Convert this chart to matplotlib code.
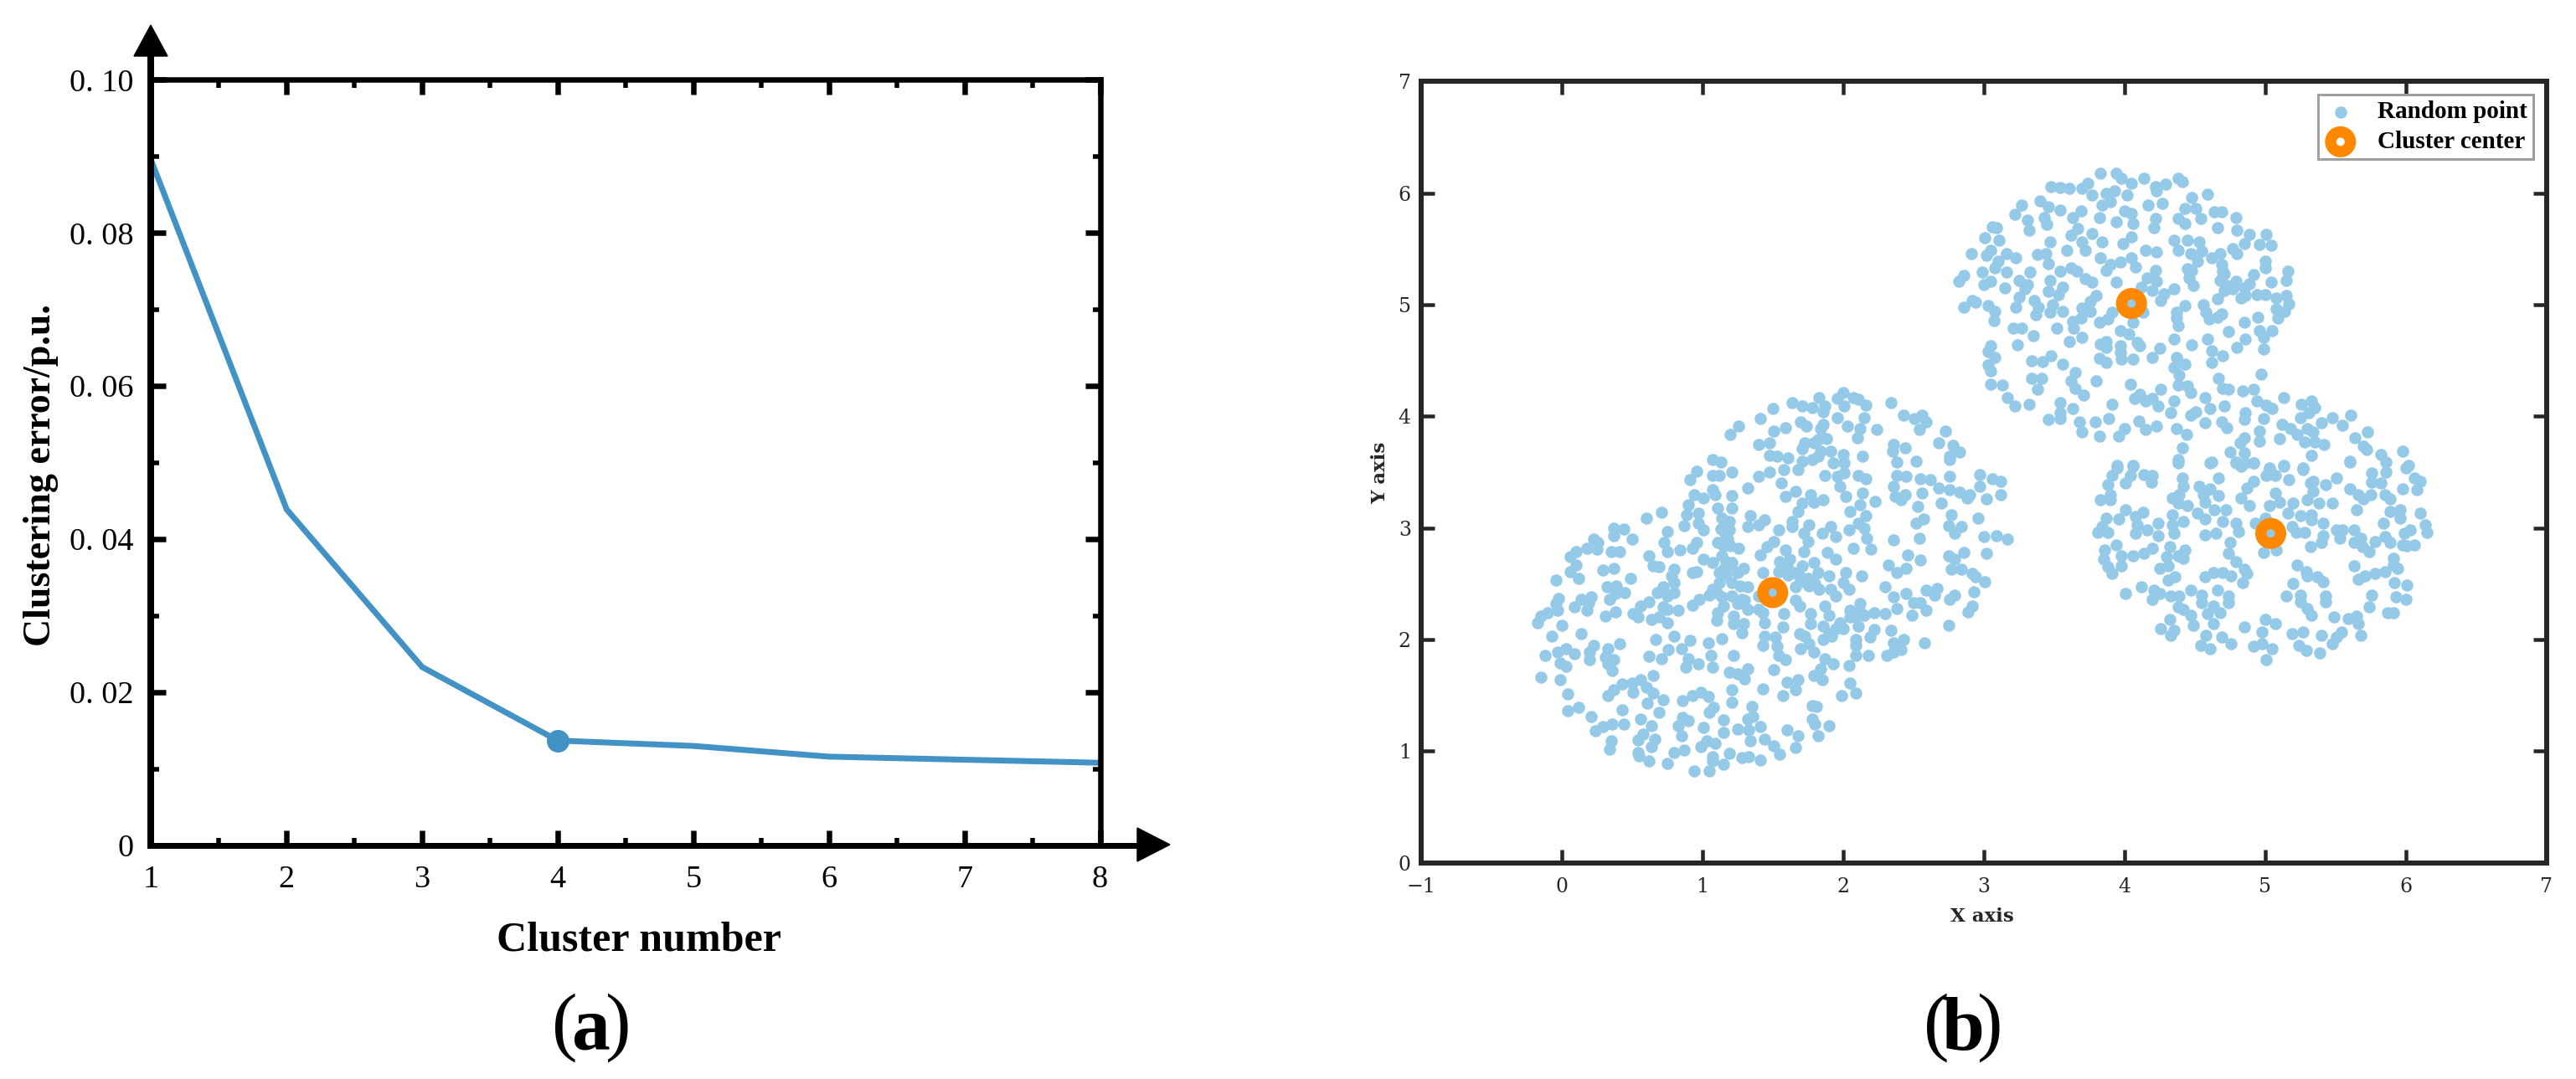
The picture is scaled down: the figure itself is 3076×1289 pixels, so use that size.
import matplotlib
matplotlib.use("Agg")
import matplotlib.pyplot as plt
from matplotlib.patches import Polygon
from matplotlib.lines import Line2D

W, H = 3076, 1289

# Panel (a)
cluster_number = [1, 2, 3, 4, 5, 6, 7, 8]
clustering_error = [0.0895, 0.0439, 0.0233, 0.0137, 0.0130, 0.0116, 0.0112, 0.0108]
elbow_x = [4]
elbow_y = [0.0137]
a_xticks = [1, 2, 3, 4, 5, 6, 7, 8]
a_yticks = [0, 0.02, 0.04, 0.06, 0.08, 0.10]
a_yticklabels = ["0", "0. 02", "0. 04", "0. 06", "0. 08", "0. 10"]

# Panel (b)
centers_x = [4.05, 1.50, 5.04]
centers_y = [5.01, 2.42, 2.95]

points_top = [
(3.83,6.18),(3.94,6.18),(3.98,6.13),(4.05,6.09),(4.14,6.13),(4.38,6.13),(4.41,6.10),(4.22,6.06),(4.29,6.08),(4.23,6.02),
(3.48,6.06),(3.54,6.05),(3.61,6.04),(3.70,6.04),(3.74,6.09),(3.93,6.02),(4.02,5.98),(3.77,5.98),(3.87,6.00),(4.59,5.99),
(4.48,5.96),(3.40,5.93),(3.27,5.89),(3.46,5.88),(3.54,5.85),(3.69,5.84),(3.84,5.89),(3.90,5.92),(4.17,5.89),(4.27,5.91),
(4.00,5.84),(4.05,5.82),(3.22,5.81),(3.31,5.76),(3.43,5.78),(3.45,5.72),(3.63,5.78),(3.82,5.78),(3.94,5.74),(4.06,5.73),
(4.22,5.77),(4.21,5.69),(4.38,5.77),(4.43,5.86),(4.43,5.73),(4.51,5.86),(4.54,5.77),(4.64,5.83),(4.69,5.83),(4.79,5.78),
(4.66,5.69),(4.80,5.67),(3.32,5.67),(3.06,5.70),(3.09,5.69),(3.01,5.60),(3.11,5.58),(3.67,5.68),(3.62,5.62),(3.77,5.64),
(3.47,5.56),(3.70,5.56),(3.72,5.49),(3.84,5.56),(3.99,5.55),(4.05,5.61),(4.35,5.58),(4.38,5.49),(4.45,5.58),(4.53,5.56),
(4.55,5.48),(4.47,5.46),(4.15,5.49),(4.23,5.47),(4.89,5.63),(4.85,5.55),(5.01,5.63),(4.96,5.54),(5.04,5.53),(4.77,5.50),
(4.80,5.46),(3.59,5.49),(3.05,5.49),(3.02,5.44),(2.91,5.46),(3.16,5.46),(3.23,5.42),(3.38,5.45),(3.44,5.46),(3.46,5.37),
(3.83,5.42),(4.05,5.42),(3.97,5.38),(3.90,5.36),(3.87,5.31),(4.08,5.34),(4.68,5.46),(4.62,5.42),(4.69,5.36),(5.00,5.39),
(5.00,5.33),(3.10,5.39),(3.08,5.33),(2.99,5.29),(3.16,5.29),(3.33,5.29),(2.86,5.26),(2.82,5.21),(3.05,5.21),(3.00,5.18),
(3.15,5.15),(3.25,5.22),(3.31,5.18),(3.29,5.14),(3.54,5.30),(3.62,5.33),(3.66,5.30),(3.72,5.23),(3.77,5.20),(3.47,5.22),
(3.46,5.12),(3.56,5.16),(3.53,5.09),(3.94,5.20),(4.22,5.31),(4.16,5.24),(4.23,5.21),(4.12,5.16),(4.20,5.13),(4.28,5.10),
(4.35,5.14),(4.26,5.04),(4.45,5.32),(4.48,5.31),(4.46,5.24),(4.49,5.17),(4.52,5.39),(4.68,5.22),(4.71,5.28),(4.71,5.13),
(4.79,5.21),(4.77,5.14),(4.92,5.27),(4.89,5.19),(5.04,5.20),(5.16,5.30),(5.15,5.22),(4.86,5.08),(4.83,5.06),(4.94,5.09),
(5.00,5.09),(5.08,5.06),(5.15,5.08),(4.66,5.05),(5.17,5.01),(5.08,4.96),(5.14,4.94),(5.09,4.88),(4.95,4.89),(4.85,4.84),
(4.96,4.77),(5.05,4.77),(4.99,4.71),(4.74,4.76),(4.86,4.69),(4.80,4.62),(4.99,4.60),(4.59,4.69),(4.48,4.64),(4.35,4.69),
(4.62,4.59),(4.70,4.54),(4.62,4.48),(4.97,4.38),(4.67,4.34),(4.70,4.25),(4.74,4.24),(4.84,4.23),(4.92,4.24),
(2.92,5.04),(2.94,5.02),(2.86,4.98),(3.03,4.99),(3.08,4.94),(3.07,4.86),(3.23,4.98),(3.25,5.07),(3.36,5.04),(3.39,4.98),
(3.37,4.91),(3.49,5.00),(3.47,4.93),(3.56,4.94),(3.70,4.97),(3.76,5.03),(3.80,5.08),(3.76,4.94),(3.69,4.88),(3.63,4.85),
(3.64,4.79),(3.52,4.79),(3.91,4.93),(3.88,4.87),(3.82,4.84),(4.05,5.01),(4.13,4.93),(4.06,4.84),(3.97,4.77),(4.03,4.74),
(4.43,4.99),(4.37,4.93),(4.37,4.88),(4.38,4.81),(4.56,5.00),(4.58,4.93),(4.60,4.87),(4.66,4.89),(4.69,4.92),(3.21,4.79),
(3.27,4.79),(3.35,4.72),(3.24,4.64),(3.61,4.67),(3.70,4.71),(3.83,4.65),(3.87,4.67),(3.87,4.62),(3.97,4.63),(3.97,4.57),
(4.09,4.66),(4.11,4.63),(4.25,4.61),(4.20,4.53),(3.05,4.63),(3.03,4.58),(3.08,4.53),(3.03,4.46),(3.05,4.41),(3.34,4.50),
(3.42,4.49),(3.48,4.54),(3.56,4.47),(3.82,4.52),(3.87,4.48),(3.98,4.51),(4.06,4.51),(4.37,4.53),(4.35,4.44),(4.43,4.47),
(4.39,4.37),(4.38,4.28),(4.45,4.27),(4.47,4.21),(3.05,4.29),(3.13,4.28),(3.34,4.34),(3.41,4.34),(3.38,4.24),(3.65,4.39),
(3.62,4.32),(3.65,4.25),(3.71,4.19),(3.80,4.32),(4.04,4.29),(3.17,4.17),(3.22,4.09),(3.32,4.11),(3.54,4.12),(3.54,4.03),
(3.54,3.98),(3.46,3.97),(3.63,4.07),(3.68,3.95),(3.70,3.86),(3.79,3.95),(3.82,3.82),(3.89,3.98),(3.91,4.11),(3.96,3.82),
(4.00,3.89),(4.07,4.16),(4.11,4.20),(4.15,4.14),(4.20,4.16),(4.26,4.24),(4.24,4.09),(4.35,4.14),(4.33,4.03),(4.10,3.96),
(4.15,3.88),(4.23,3.91),(4.37,3.89),(4.44,3.84),(4.57,4.17),(4.47,4.01),(4.51,4.04),(4.61,4.07),(4.57,3.94),(4.71,4.09),
(4.69,3.95),(4.73,3.90),(4.86,4.03),(4.85,3.97),(4.99,3.98),(4.94,4.14),(5.01,4.10),(5.05,4.07),(5.13,4.17),
(4.70,5.30),(4.73,5.17),(4.85,5.15),
]

points_right = [
(5.26,4.11),(5.33,4.14),(5.35,4.08),(5.31,4.03),(5.25,3.99),(5.12,3.93),(5.18,3.89),(5.23,3.84),(5.30,3.89),(5.34,3.86),
(5.40,3.94),(5.48,3.99),(5.55,3.92),(5.61,4.01),(5.28,3.77),(5.35,3.77),(5.42,3.75),(4.96,3.87),(4.96,3.78),(5.10,3.80),
(4.85,3.81),(4.82,3.76),(4.85,3.67),(4.75,3.68),(4.41,3.72),(5.33,3.65),(5.64,3.81),(5.70,3.73),(5.73,3.86),(5.72,3.70),
(5.60,3.59),(5.82,3.66),(5.98,3.69),(5.86,3.59),(6.02,3.56),(4.62,3.59),(4.38,3.61),(4.79,3.59),(4.86,3.58),(4.92,3.58),
(5.13,3.56),(5.03,3.54),(5.27,3.54),(3.95,3.56),(4.06,3.56),
(3.95,3.54),(4.06,3.55),(3.91,3.47),(3.88,3.39),(4.01,3.40),(4.04,3.47),(4.14,3.48),(4.20,3.47),(4.19,3.41),(3.90,3.30),
(3.83,3.25),(3.90,3.25),(4.01,3.16),(3.96,3.08),(3.87,3.09),(3.84,3.01),(3.81,2.96),(3.88,2.96),(4.08,3.10),(4.13,3.14),
(4.09,3.03),(4.08,2.95),(4.16,2.98),(4.24,3.04),(4.24,2.93),(4.34,3.12),(4.34,3.03),(4.35,2.95),(4.42,3.06),(4.38,3.58),
(4.41,3.45),(4.42,3.37),(4.34,3.27),(4.39,3.30),(4.38,3.22),(4.45,3.20),(4.52,3.13),(4.57,3.08),(4.53,3.37),(4.56,3.30),
(4.61,3.35),(4.57,3.23),(4.67,3.29),(4.67,3.45),(4.64,3.16),(4.72,3.16),(4.70,3.06),(4.79,3.04),(4.81,2.97),(4.57,2.94),
(4.65,2.95),(4.75,2.87),(4.74,2.77),(4.79,2.70),(4.85,2.63),(4.87,2.59),(4.84,2.51),(4.61,3.58),(4.79,3.58),(4.83,3.55),
(4.92,3.58),(4.87,3.36),(4.92,3.42),(4.83,3.27),(4.89,3.20),(5.03,3.52),(5.01,3.47),(5.07,3.47),(5.13,3.55),(5.17,3.43),
(5.27,3.52),(5.32,3.40),(5.34,3.33),(5.34,3.42),(5.43,3.39),(5.51,3.45),(5.07,3.31),(5.10,3.23),(5.03,3.20),(5.20,3.22),
(5.16,3.13),(5.30,3.25),(5.38,3.22),(5.48,3.22),(5.25,3.11),(5.33,3.12),(5.33,3.07),(5.41,3.04),(5.00,3.09),(4.93,3.04),
(5.19,3.01),(5.22,2.96),(5.28,2.96),(5.04,2.95),(5.32,2.83),(5.41,2.93),(5.40,2.87),(5.51,2.98),(5.55,2.98),(5.53,2.91),
(5.63,2.98),(5.68,2.91),(5.63,2.87),(5.69,2.83),(5.74,2.79),(5.78,2.88),(5.85,2.92),(5.89,2.87),(4.99,2.78),(5.08,2.80),
(5.65,3.16),(5.60,3.35),(5.66,3.30),(5.70,3.26),(5.75,3.30),(5.76,3.41),(5.76,3.49),(5.82,3.40),(5.85,3.30),(5.89,3.26),
(5.89,3.15),(5.84,3.04),(5.96,3.16),(5.96,3.09),(5.98,3.35),(6.00,3.54),(6.06,3.45),(6.10,3.42),(6.08,3.34),(6.10,3.13),
(6.14,3.03),(6.15,2.96),(6.03,2.98),(5.99,2.95),(5.98,2.85),(6.06,2.85),(6.01,2.84),(5.86,3.50),(5.60,3.60),
(5.23,2.67),(5.29,2.61),(5.30,2.57),(5.37,2.56),(5.41,2.52),(5.20,2.50),(5.15,2.39),(5.25,2.40),(5.25,2.34),(5.30,2.28),
(5.33,2.22),(5.43,2.39),(5.43,2.34),(5.63,2.66),(5.66,2.54),(5.71,2.57),(5.78,2.59),(5.85,2.61),(5.91,2.73),(5.91,2.67),
(5.94,2.64),(5.92,2.51),(6.01,2.49),(5.93,2.38),(6.00,2.36),(5.76,2.40),(5.74,2.29),(5.87,2.24),(5.91,2.24),(5.49,2.20),
(5.59,2.19),(5.65,2.21),(5.66,2.14),(5.68,2.04),(5.54,2.07),(5.51,2.02),(5.48,1.96),(5.40,2.04),(5.27,2.07),(5.19,2.05),
(5.24,1.95),(5.29,1.90),(5.39,1.88),(5.07,2.14),(5.00,2.18),(4.98,2.07),(4.85,2.11),(4.92,1.94),(4.98,1.96),(5.05,1.92),
(5.01,1.82),(4.76,1.96),(4.69,2.02),(4.61,1.92),(4.54,1.95),(4.58,2.04),(4.33,2.04),(4.35,2.08),(4.26,2.10),(4.32,2.18),
(4.49,2.13),(4.63,2.14),(4.68,2.24),(4.63,2.30),(4.59,2.23),(4.47,2.22),(4.42,2.27),(4.38,2.29),(4.55,2.33),(4.74,2.33),
(4.74,2.39),(4.66,2.44),(4.55,2.40),(4.47,2.44),(4.39,2.39),(4.33,2.39),(4.20,2.36),(4.25,2.41),(4.21,2.44),(4.12,2.47),
(4.01,2.41),(4.57,2.56),(4.63,2.60),(4.70,2.60),(4.76,2.57),(4.36,2.56),(4.31,2.53),(4.25,2.64),(4.31,2.66),(4.30,2.74),
(4.38,2.75),(4.42,2.73),(4.43,2.80),(4.32,2.83),(4.20,2.82),(4.14,2.77),(4.06,2.75),(3.98,2.75),(3.98,2.66),(3.94,2.85),
(3.86,2.80),(3.85,2.72),(3.88,2.65),(3.91,2.59),
]

points_left = [
(2.73,3.87),(2.78,3.74),(2.83,3.68),(2.76,3.64),(2.76,3.61),
(1.83,4.17),(2.00,4.21),(1.96,4.16),(2.07,4.17),(2.11,4.15),(2.16,4.10),(2.01,4.09),(1.64,4.12),(1.71,4.09),(1.78,4.08),
(1.87,4.09),(1.86,4.04),(1.50,4.07),(1.41,3.98),(1.26,3.91),(1.20,3.84),(1.96,3.99),(2.15,3.99),(1.70,3.95),(1.74,3.91),
(1.86,3.93),(1.84,3.89),(2.03,3.91),(2.12,3.89),(2.24,3.88),(2.34,4.12),(2.43,4.01),(2.51,3.98),(2.56,4.01),(2.59,3.95),
(2.54,3.88),(1.51,3.87),(1.59,3.90),(1.40,3.75),(1.48,3.76),(1.88,3.80),(1.82,3.79),(2.10,3.81),(1.73,3.76),(1.71,3.71),
(1.79,3.76),(1.84,3.69),(1.91,3.69),(2.00,3.66),(2.14,3.64),(2.36,3.75),(2.35,3.69),(2.44,3.72),(2.68,3.76),(2.52,3.60),
(2.38,3.59),(1.07,3.61),(1.13,3.59),(1.48,3.65),(1.53,3.64),(1.61,3.63),(1.82,3.64),(1.78,3.61),(1.71,3.60),(1.93,3.58),
(2.01,3.58),(1.21,3.50),(1.12,3.47),(1.07,3.47),(0.96,3.51),(0.91,3.43),(1.40,3.46),(1.48,3.50),(1.58,3.52),(1.56,3.40),
(1.68,3.52),(1.87,3.47),(1.96,3.46),(2.01,3.49),(1.98,3.37),(2.02,3.28),(2.11,3.47),(2.16,3.44),(1.32,3.36),(1.21,3.29),
(1.07,3.34),(1.01,3.27),(1.09,3.30),(0.94,3.30),(0.90,3.21),(0.89,3.12),(0.97,3.13),(1.11,3.18),(1.21,3.18),(1.14,3.09),
(1.19,3.06),(1.34,3.11),(1.44,3.07),(1.40,3.03),(1.32,3.01),(1.54,2.98),(1.59,3.28),(1.66,3.33),(1.77,3.30),(1.79,3.23),
(1.86,3.25),(1.71,3.22),(1.68,3.15),(1.64,3.06),(1.64,3.01),(1.76,3.03),(1.72,2.95),(1.75,2.88),(1.72,2.79),(1.85,2.95),
(1.91,3.01),(1.95,2.92),(2.05,3.15),(2.12,3.21),(2.14,3.31),(2.23,3.24),(2.16,3.11),(2.11,3.04),(2.04,2.98),(2.15,3.00),
(2.17,2.91),(2.07,2.82),(2.20,2.81),(0.71,3.14),(0.60,3.09),(0.75,2.97),(0.97,3.04),(1.01,2.98),(0.87,3.02),(0.37,3.00),
(0.44,2.99),(0.37,2.93),(0.50,2.90),(0.23,2.90),(0.18,2.82),(0.26,2.87),(0.25,2.81),(0.10,2.79),(0.06,2.74),(0.10,2.67),
(0.06,2.61),(0.12,2.55),(0.35,2.79),(0.41,2.79),(0.29,2.62),(0.37,2.64),(0.62,2.75),(0.65,2.66),(0.69,2.65),(0.73,2.87),
(0.75,2.79),(0.84,2.80),(0.93,2.82),(0.96,2.87),(0.80,2.63),(0.78,2.57),(0.80,2.51),(0.49,2.55),(-0.04,2.53),(0.96,2.61),
(0.93,2.60),(1.01,2.72),(1.07,2.69),(1.11,2.87),(1.17,2.89),(1.26,2.82),(1.14,2.75),(1.21,2.69),(1.29,2.64),(1.17,2.58),
(1.21,2.51),(1.12,2.51),(1.32,2.47),(1.41,2.76),(1.43,2.60),(1.51,2.88),(1.46,2.83),(1.59,2.80),(1.55,2.70),(1.54,2.61),
(1.61,2.58),(1.71,2.66),(1.79,2.69),(1.69,2.57),(1.82,2.60),(1.76,2.48),(1.66,2.47),(1.89,2.78),(1.95,2.72),(1.90,2.57),
(1.83,2.45),(2.02,2.60),(2.13,2.57),(2.00,2.51),(2.04,2.45),(1.91,2.45),(1.95,2.39),(2.30,2.47),(2.32,2.67),(2.38,2.60),
(2.45,2.64),(2.46,2.76),(2.55,2.71),(2.36,2.89),(2.54,2.91),(2.52,3.04),(2.57,3.08),(2.75,3.02),(2.77,3.12),(2.79,2.95),
(2.84,3.01),(2.53,3.19),(2.70,3.22),(2.36,3.37),(2.37,3.28),(2.41,3.25),(2.44,3.30),(2.56,3.31),(2.38,3.47),(2.45,3.46),
(2.55,3.44),(2.62,3.43),(2.76,3.46),(2.68,3.36),(2.76,3.34),(2.83,3.32),(2.88,3.27),(2.75,2.75),(2.79,2.72),(2.77,2.63),
(2.86,2.78),(2.84,2.63),(2.36,2.38),(2.38,2.28),(2.30,2.23),(2.22,2.24),(2.15,2.22),(2.45,2.41),(2.50,2.33),(2.55,2.33),
(2.59,2.44),(2.65,2.40),(2.67,2.46),(2.79,2.40),(2.76,2.36),(2.49,2.22),(2.59,2.26),(2.75,2.13),(2.58,1.97),(2.89,2.25),
(2.34,2.08),(2.43,2.00),(2.36,1.97),(2.41,1.91),(2.36,1.89),(2.31,1.86),(2.12,2.32),(2.05,2.26),(1.98,2.15),(2.09,2.21),
(2.11,2.12),(2.22,2.09),(2.19,2.02),(2.09,2.00),(2.09,1.95),(2.09,1.86),(2.18,1.86),(2.04,1.77),(1.93,1.78),(1.87,1.83),
(1.92,2.03),(1.86,2.00),(1.86,2.12),(1.90,2.22),(1.87,2.30),(1.77,2.23),(1.77,2.14),(1.69,2.05),(1.73,2.03),(1.76,1.96),
(1.70,1.92),(1.79,1.89),(1.66,2.35),(1.69,2.30),(1.58,2.23),(1.57,2.11),(1.43,2.24),(1.44,2.15),(1.44,2.03),(1.43,1.95),
(1.52,2.02),(1.53,1.94),(1.54,1.86),(1.59,1.82),(1.51,1.73),(1.40,2.27),(1.32,2.27),(1.28,2.36),(1.40,2.39),(1.21,2.39),
(1.14,2.38),(1.07,2.45),(0.98,2.36),(0.93,2.31),(1.11,2.24),(1.10,2.17),(1.15,2.30),(1.22,2.21),(1.22,2.14),(1.28,2.06),
(1.29,2.14),(0.83,2.26),(0.75,2.27),(0.72,2.29),(0.64,2.18),(0.75,2.15),(0.69,2.20),(0.80,2.42),(0.72,2.47),(0.68,2.42),
(0.75,2.39),(0.62,2.34),(0.56,2.30),(0.51,2.23),(0.54,2.20),(0.45,2.42),(0.39,2.48),(0.32,2.47),(0.38,2.41),(0.34,2.36),
(0.38,2.25),(0.31,2.21),(0.21,2.38),(0.14,2.36),(0.19,2.33),(0.18,2.26),(0.09,2.29),(-0.02,2.37),(-0.04,2.32),(-0.03,2.26),
(-0.10,2.24),(-0.15,2.21),(-0.17,2.15),(0.00,2.13),(-0.07,2.03),(0.14,2.05),(0.67,2.00),(0.80,2.03),(0.91,1.99),(1.04,1.97),
(1.14,2.01),(0.76,1.91),(0.85,1.92),(0.62,1.85),(0.71,1.83),(0.90,1.83),(0.97,1.78),(0.88,1.75),(1.06,1.86),(1.07,1.75),
(1.22,1.86),(0.41,1.96),(0.33,1.92),(0.23,1.95),(0.20,1.89),(0.20,1.82),(0.09,1.87),(0.03,1.92),(-0.03,1.89),(-0.12,1.86),
(-0.01,1.79),(0.03,1.76),(0.31,1.84),(0.37,1.82),(0.33,1.78),(0.36,1.72),(-0.15,1.66),(-0.01,1.64),(0.65,1.68),(1.19,1.71),
(1.25,1.69),(1.32,1.74),(1.30,1.65),(1.68,1.64),(1.60,1.62),(1.84,1.74),(1.79,1.68),(1.85,1.64),(2.05,1.61),(2.09,1.52),
(1.99,1.50),(0.43,1.60),(0.37,1.55),(0.33,1.50),(0.50,1.61),(0.56,1.64),(0.60,1.57),(0.51,1.53),(0.65,1.52),(0.72,1.46),
(0.61,1.43),(0.69,1.35),(0.04,1.51),(0.12,1.39),(0.04,1.36),(0.21,1.31),(0.43,1.37),(0.56,1.29),(0.93,1.50),(0.99,1.53),
(1.04,1.49),(0.86,1.45),(1.21,1.55),(1.21,1.44),(1.43,1.56),(1.57,1.50),(1.66,1.55),(1.35,1.40),(1.08,1.39),(1.05,1.35),
(1.78,1.41),(1.81,1.40),(1.78,1.29),(1.80,1.24),(1.90,1.23),(1.82,1.14),(1.68,1.14),(1.60,1.19),(1.66,1.03),(0.86,1.30),
(0.83,1.23),(0.90,1.27),(0.85,1.14),(1.01,1.21),(1.15,1.28),(1.15,1.17),(1.25,1.20),(1.32,1.29),(1.36,1.31),(1.41,1.22),
(1.33,1.19),(1.34,1.09),(1.44,1.11),(1.51,1.05),(1.55,0.97),(0.24,1.18),(0.29,1.22),(0.36,1.24),(0.44,1.24),(0.64,1.23),
(0.58,1.15),(0.54,1.10),(0.66,1.11),(0.64,1.04),(0.35,1.09),(0.34,1.02),(0.54,0.99),(0.55,0.96),(0.62,0.91),(0.75,0.89),
(0.80,0.99),(0.87,1.01),(0.99,1.04),(1.03,1.09),(1.09,1.07),(1.07,0.95),(1.07,0.91),(1.15,0.88),(1.19,0.98),(1.28,0.94),
(1.33,0.95),(1.41,0.92),(0.94,0.82),(1.05,0.82),(1.50,2.42),
(2.97,3.48),(2.97,3.37),(3.06,3.44),(3.12,3.42),(3.12,3.30),(3.02,3.26),(2.90,3.30),(2.96,3.09),(3.00,2.92),(3.09,2.93),
(3.17,2.90),(3.02,2.77),(2.92,2.59),(2.94,2.56),(3.01,2.52),(2.93,2.43),(2.92,2.30),
(1.16,2.95),(1.19,2.98),(1.13,2.99),(1.18,2.90),(1.15,2.84),(1.20,2.84),(1.17,2.70),(1.20,2.65),(1.15,2.63),(1.12,2.60),
(1.25,2.60),(1.27,2.48),(1.05,2.40),(1.10,2.42),(1.25,2.32),(1.30,2.35),(1.70,2.55),(1.75,2.55),(1.80,2.50),(1.70,2.52),
(1.65,2.60),(1.60,2.66),(1.62,2.72),(1.95,2.10),(2.00,2.10),(1.90,2.05),(2.05,2.20),(2.12,2.25),
]

PT = 0.72  # points per pixel at dpi 100
SERIF = ["Liberation Serif", "DejaVu Serif"]


def fx(px):
    return px / W


def fy(px):
    return 1 - px / H


def axes_box(left, top, right, bottom):
    return [fx(left), fy(bottom), (right - left) / W, (bottom - top) / H]


fig = plt.figure(figsize=(W / 100, H / 100), dpi=100, facecolor="white")

# ---------- panel (a) ----------
axa = fig.add_axes(axes_box(180.4, 95.4, 1313.6, 1010))
axa.plot(cluster_number, clustering_error, color="#4292C6", lw=7 * PT, solid_joinstyle="round")
axa.plot(elbow_x, elbow_y, "o", color="#4292C6", ms=27 * PT, mew=0, clip_on=False)
axa.set_xlim(1, 8)
axa.set_ylim(0, 0.10)
axa.set_xticks(a_xticks)
axa.set_xticks([1.5, 2.5, 3.5, 4.5, 5.5, 6.5, 7.5], minor=True)
axa.set_yticks(a_yticks)
axa.set_yticklabels(a_yticklabels)
axa.set_yticks([0.01, 0.03, 0.05, 0.07, 0.09], minor=True)
for s in axa.spines.values():
    s.set_linewidth(6.5 * PT)
    s.set_color("black")
axa.tick_params(which="major", direction="in", top=True, right=True, length=18 * PT, width=6.5 * PT, color="black")
axa.tick_params(which="minor", direction="in", top=True, right=True, length=9.5 * PT, width=5.5 * PT, color="black")
axa.tick_params(axis="x", which="major", pad=24 * PT, labelsize=27.5, labelfontfamily="Liberation Serif")
axa.tick_params(axis="y", which="major", pad=21 * PT, labelsize=27.5, labelfontfamily="Liberation Serif")
fig.text(fx(763), fy(1123), "Cluster number", family=SERIF, weight="bold", fontsize=36, ha="center", va="center")
fig.text(fx(49), fy(568), "Clustering error/p.u.", family=SERIF, weight="bold", fontsize=33, rotation=90, ha="center", va="center")

# axis arrows of panel (a)
fig.add_artist(Line2D([fx(180), fx(180)], [fy(1010), fy(60)], color="black", lw=8 * PT, transform=fig.transFigure))
fig.add_artist(Line2D([fx(180), fx(1365)], [fy(1010), fy(1010)], color="black", lw=7 * PT, transform=fig.transFigure))
fig.add_artist(Polygon([[fx(180), fy(30)], [fx(160), fy(67)], [fx(200), fy(67)]], closed=True, color="black", transform=fig.transFigure))
fig.add_artist(Polygon([[fx(1397), fy(1009)], [fx(1358), fy(989)], [fx(1358), fy(1029)]], closed=True, color="black", transform=fig.transFigure))

# ---------- panel (b) ----------
axb = fig.add_axes(axes_box(1696.8, 97.3, 3040.8, 1030.6))
INK = "#262626"
BLUE = "#94C9E7"
ORANGE = "#FF8800"
all_points = points_top + points_right + points_left
px_vals = [p[0] for p in all_points]
py_vals = [p[1] for p in all_points]
axb.scatter(px_vals, py_vals, s=(14.5 * PT) ** 2, color=BLUE, linewidths=0, label="Random point", zorder=2)
axb.scatter(centers_x, centers_y, s=(23.5 * PT) ** 2, facecolors="none", edgecolors=ORANGE, linewidths=13.5 * PT, label="Cluster center", zorder=3)
axb.set_xlim(-1, 7)
axb.set_ylim(0, 7)
axb.set_xticks(range(-1, 8))
axb.set_yticks(range(0, 8))
for s in axb.spines.values():
    s.set_linewidth(6 * PT)
    s.set_color(INK)
axb.tick_params(direction="in", top=True, right=True, length=16 * PT, width=4.5 * PT, color=INK, labelcolor=INK)
axb.tick_params(axis="x", pad=17 * PT, labelsize=17, labelfontfamily="DejaVu Serif")
axb.tick_params(axis="y", pad=12 * PT, labelsize=17, labelfontfamily="DejaVu Serif")
fig.text(fx(2367), fy(1095), "X axis", family="DejaVu Serif", weight="bold", fontsize=16.5, color=INK, ha="center", va="center")
fig.text(fx(1648), fy(565), "Y axis", family="DejaVu Serif", weight="bold", fontsize=16.5, color=INK, rotation=90, ha="center", va="center")
leg = axb.legend(
    loc="upper right",
    bbox_to_anchor=((3025 - 1696.8) / 1344, 1 - (113 - 97.3) / 933.3),
    borderaxespad=0,
    frameon=True,
    fancybox=False,
    edgecolor="#A0A0A0",
    framealpha=1,
    prop={"family": "Liberation Serif", "weight": "bold", "size": 21},
    labelspacing=0.3,
    borderpad=0.25,
    handlelength=1.33,
    handletextpad=0.85,
    scatterpoints=1,
)
leg.get_frame().set_linewidth(3 * PT)
for t in leg.get_texts():
    t.set_color("black")

# ---------- panel captions ----------
for cx, letter in [(706, "a"), (2344, "b")]:
    fig.text(fx(cx - 32), fy(1228), "(", family="Liberation Serif", fontsize=66, ha="center", va="center")
    fig.text(fx(cx), fy(1232), letter, family="Liberation Serif", weight="bold", fontsize=66, ha="center", va="center")
    fig.text(fx(cx + 32), fy(1228), ")", family="Liberation Serif", fontsize=66, ha="center", va="center")

fig.savefig("out.png", dpi=100, facecolor="white")
